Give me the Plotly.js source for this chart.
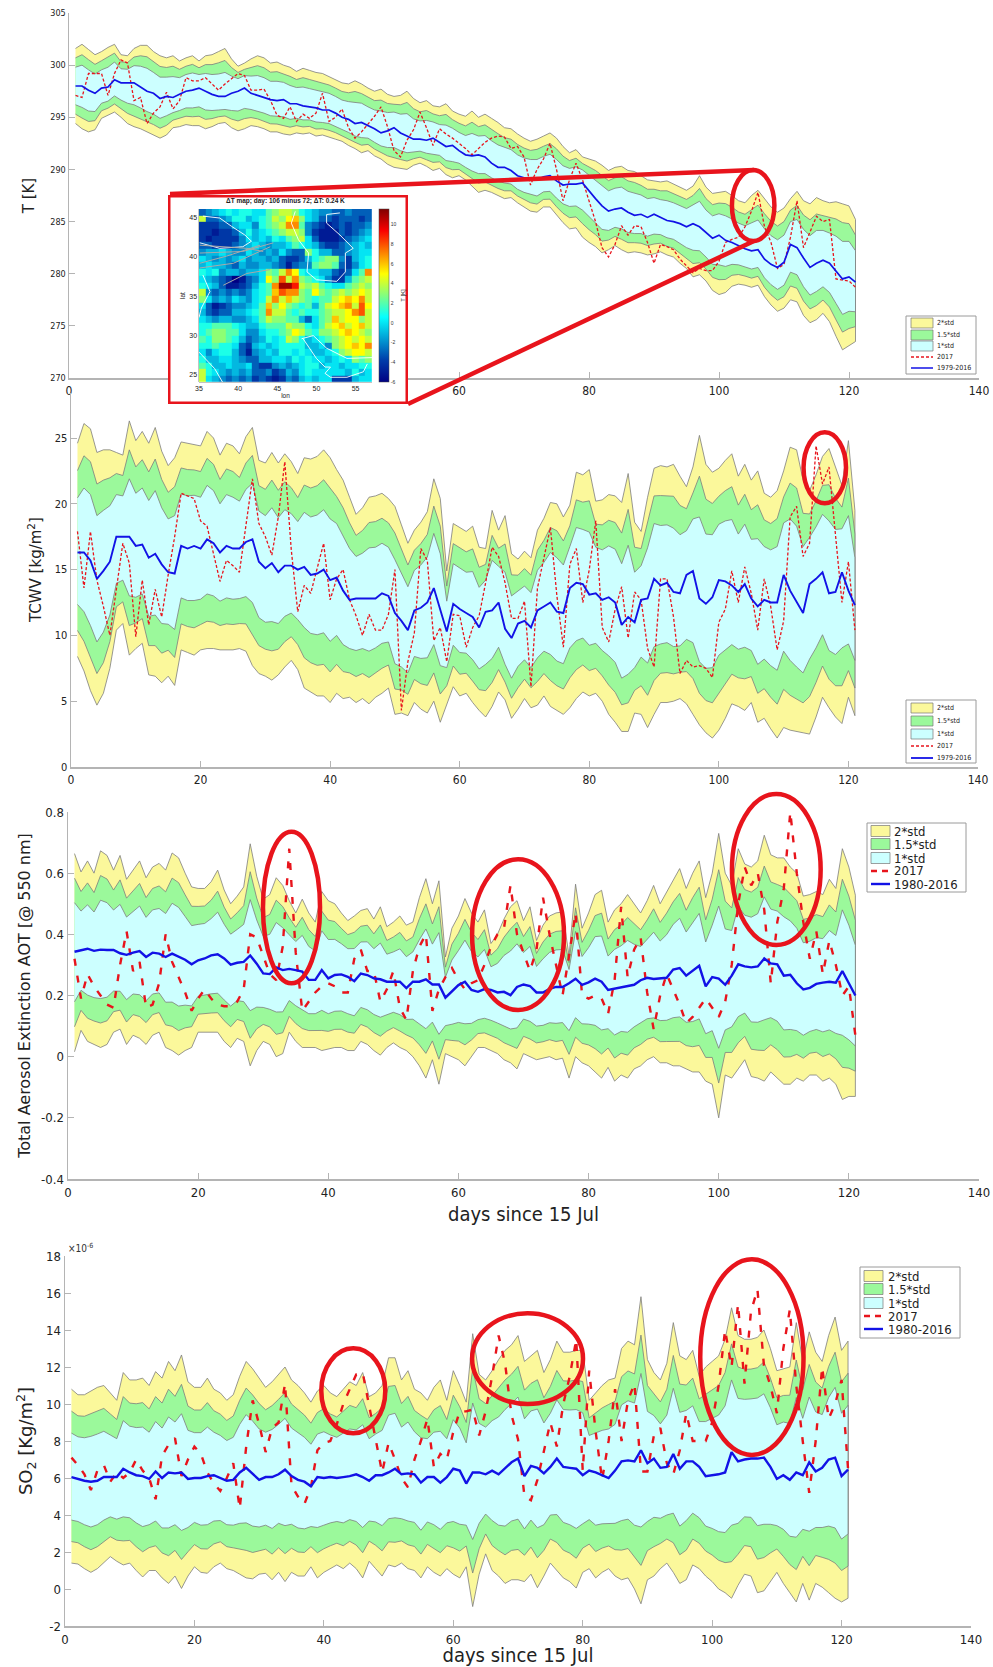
<!DOCTYPE html>
<html><head><meta charset="utf-8">
<script src="https://cdn.plot.ly/plotly-3.0.1.min.js"></script>
<style>html,body{margin:0;padding:0;background:#fff}#chart{width:993px;height:1667px}</style>
</head><body><div id="chart"></div>
<script>
// ---------- DATA (days 1..121) ----------
const days = [];
for (let d = 1; d <= 121; d++) days.push(d);

const tUpper2 = [301.6,302.0,301.5,301.0,301.3,301.7,302.0,301.0,300.9,301.6,
301.9,301.9,301.3,300.9,300.7,300.9,300.4,300.7,300.9,300.4,
300.9,301.0,301.3,301.6,300.6,299.9,300.2,300.6,300.9,300.7,
300.2,300.3,300.0,299.8,299.4,299.7,299.5,299.3,299.2,298.9,
298.6,298.3,298.2,298.5,298.2,297.8,297.5,297.7,297.2,297.0,
297.1,297.5,296.8,296.4,296.6,296.1,296.0,296.3,295.6,295.3,
295.1,295.6,295.0,295.3,294.9,294.5,294.0,293.9,293.4,293.0,
292.7,292.9,293.2,293.5,293.0,292.2,291.6,291.9,291.2,291.0,
290.8,290.4,289.9,290.2,290.3,289.9,289.8,289.4,289.0,288.9,
288.8,288.9,288.6,288.3,288.0,288.4,289.4,288.3,287.7,287.8,
287.9,287.5,287.0,286.8,287.5,288.0,287.2,286.4,285.9,286.3,
287.2,287.9,287.0,286.7,287.3,287.0,286.8,286.9,286.7,286.5,285.2];
const tLower2 = [294.4,293.9,293.6,293.8,294.9,295.2,295.5,295.0,294.4,294.1,
293.9,293.6,293.3,293.0,293.3,294.0,294.1,294.3,294.2,294.2,
293.9,294.1,294.4,294.5,294.0,293.7,293.9,294.2,294.1,293.9,
293.6,293.6,293.4,293.3,293.5,293.4,293.5,293.2,293.3,293.1,
292.9,292.7,292.3,292.0,291.6,291.8,291.3,291.0,290.5,290.2,
290.1,290.0,290.4,290.6,290.3,289.9,290.1,289.5,289.2,289.4,
289.0,288.4,287.8,288.0,287.8,287.5,287.2,287.3,286.8,286.4,
286.0,285.9,286.4,286.4,285.6,284.9,284.3,284.4,283.5,283.0,
282.6,282.0,282.3,282.7,282.3,282.0,282.1,282.0,281.8,281.9,
282.1,281.8,281.6,281.0,280.5,279.7,279.9,279.3,278.4,278.0,
278.2,278.8,279.0,278.9,278.7,278.9,277.8,277.0,276.4,276.7,
277.5,277.3,276.0,275.3,275.6,276.2,275.4,274.0,272.7,273.1,273.5];
const tMean = [298.0,298.0,297.6,297.3,297.8,297.9,298.6,298.3,298.3,298.3,
297.9,297.5,297.3,296.8,297.0,296.9,297.2,297.5,297.6,297.8,
297.5,297.2,297.0,297.0,297.3,297.5,297.8,297.3,297.1,296.9,
296.7,296.6,296.7,296.3,296.3,296.1,296.0,295.9,295.7,295.7,
295.4,295.0,294.8,294.4,294.5,294.2,293.9,293.5,293.7,294.0,
293.5,293.2,292.9,292.9,292.8,293.0,292.6,292.2,292.3,291.8,
291.4,291.3,291.4,291.2,290.6,290.2,290.2,289.9,289.4,289.2,
289.2,289.0,289.3,289.4,288.9,288.5,288.6,288.6,288.7,287.9,
287.2,286.5,286.0,286.2,286.3,285.9,285.6,285.7,285.4,285.7,
285.4,285.1,285.0,284.8,284.5,284.8,284.5,283.9,283.4,283.7,
283.2,283.0,282.7,282.4,282.2,282.3,281.4,280.9,280.6,281.1,
282.8,282.5,281.5,280.6,281.0,281.3,281.0,280.3,279.5,279.7,279.2];
const t2017 = [297.1,296.9,299.2,299.2,299.2,297.1,299.2,300.5,300.2,296.6,
296.9,294.4,295.4,296.0,297.4,295.8,296.6,298.8,298.5,298.5,
298.8,298.2,297.6,298.2,298.7,299.2,299.0,297.6,297.6,297.7,
296.6,295.2,294.9,296.0,294.6,295.3,294.9,295.4,297.3,294.6,
295.0,295.8,294.0,293.0,293.6,294.3,295.1,296.0,294.1,291.8,
291.2,292.8,293.8,295.5,294.0,292.3,293.9,293.4,293.0,292.5,
292.0,291.4,292.0,292.6,293.0,293.2,293.1,292.0,292.2,291.2,
288.5,290.0,291.0,292.5,290.0,287.0,289.0,290.6,289.0,287.0,
285.0,282.5,281.6,282.8,284.6,283.7,284.6,284.5,283.0,281.0,
282.8,282.6,282.3,281.4,280.7,280.1,280.5,280.3,280.3,281.2,
283.0,283.3,283.5,284.5,286.0,287.8,284.5,283.0,280.5,280.9,
283.5,287.0,282.5,284.0,285.5,285.0,285.2,279.5,279.4,279.3,278.7];

const wUpper2 = [24.6,26.1,25.7,23.9,24.1,24.1,23.9,23.7,26.3,24.8,
25.5,24.6,25.8,24.0,22.9,23.5,24.7,24.6,24.5,24.4,
25.5,25.0,23.7,24.6,24.4,23.8,25.1,25.8,23.3,23.1,
23.9,23.1,23.8,23.2,22.3,23.5,23.4,23.6,24.1,23.5,
22.6,21.8,20.5,19.2,19.7,20.5,20.6,20.8,20.4,19.8,
18.4,17.0,18.0,18.6,19.4,21.9,20.4,14.9,18.5,18.2,
17.9,18.3,16.7,16.6,19.5,18.0,19.1,16.2,15.8,16.4,
15.9,18.0,18.9,20.1,20.0,19.0,19.9,22.4,22.2,22.6,
20.2,20.3,20.7,20.6,20.1,22.3,18.6,17.9,20.5,22.7,
22.9,22.8,23.0,22.1,21.3,22.8,25.2,23.0,22.4,22.7,
23.3,23.8,22.1,23.0,21.8,22.5,20.8,20.5,21.0,22.5,
24.3,24.1,21.8,21.0,22.2,23.6,24.2,22.8,21.4,24.8,19.5];
const wLower2 = [8.4,7.3,5.8,4.7,5.6,7.5,10.4,10.9,8.5,9.0,
9.4,7.0,6.9,6.4,6.9,6.2,8.9,8.7,8.5,8.9,
9.0,9.0,8.9,8.9,8.9,9.0,8.8,7.7,7.1,6.9,
6.6,7.0,7.6,8.1,7.4,6.0,5.7,5.4,5.4,4.9,
5.6,5.2,5.3,4.9,5.2,4.8,5.3,5.6,6.0,4.0,
4.1,3.9,4.9,4.4,4.1,5.0,3.4,4.8,6.1,5.4,
5.6,4.9,4.3,3.8,4.6,5.7,5.1,3.7,4.4,5.2,
4.5,4.7,5.4,4.6,4.3,4.0,4.5,5.2,5.7,5.4,
5.6,5.0,4.0,3.4,2.7,2.7,4.1,4.0,3.0,4.0,
4.9,4.9,5.0,5.2,4.8,4.0,3.2,2.6,2.2,2.8,
3.7,4.8,4.6,4.3,4.9,3.4,3.7,2.9,2.2,3.0,
2.8,2.7,2.6,2.5,3.8,5.3,4.5,3.8,3.3,5.3,3.9];
const wMean = [16.3,16.3,15.7,14.3,14.9,15.6,17.5,17.5,17.5,16.8,
16.9,15.9,16.2,15.4,14.8,14.7,16.8,16.6,16.8,16.6,
17.3,17.0,16.3,16.8,16.6,16.6,17.1,17.3,15.6,15.1,
15.5,14.8,15.3,15.3,15.0,15.2,14.6,14.7,15.0,14.2,
14.4,13.4,12.7,12.8,12.8,12.8,12.8,13.2,13.0,11.7,
11.1,10.4,11.9,12.1,12.5,13.6,12.0,10.3,12.4,12.0,
11.7,11.4,10.6,11.8,11.9,12.5,10.5,9.8,10.9,11.1,
10.6,11.9,12.2,12.5,11.8,11.7,13.6,14.0,13.9,13.1,
13.2,12.7,12.9,12.5,10.8,11.4,11.0,12.7,12.8,14.3,
13.8,14.0,13.3,13.2,14.6,14.9,12.8,12.4,12.9,14.2,
14.1,13.8,13.3,13.9,12.8,12.2,12.7,12.5,12.5,14.6,
13.4,12.5,11.7,13.9,14.3,14.8,13.2,13.3,14.8,13.4,12.3];
const w2017 = [17.9,13.6,17.9,14.2,12.2,10.0,13.5,17.0,15.5,9.9,
14.2,10.8,13.5,11.4,14.6,17.5,20.8,20.6,20.4,18.7,
18.3,16.2,14.1,15.7,15.3,14.8,18.5,21.9,18.5,17.5,
16.1,19.0,23.2,16.5,11.8,13.8,13.2,15.0,17.0,12.7,
14.3,15.0,12.7,11.5,10.0,11.6,10.4,10.4,11.6,15.0,
4.3,8.0,10.2,16.6,15.7,9.6,10.6,8.0,11.6,11.5,
9.1,10.6,11.5,14.0,16.7,16.0,14.0,11.3,11.3,12.6,
6.1,13.6,15.8,18.2,13.0,9.1,15.4,16.6,12.5,15.0,
18.7,10.6,9.5,12.0,13.7,9.8,13.3,12.7,9.0,7.6,
14.3,14.3,11.4,7.1,8.1,7.6,7.7,7.5,6.8,11.0,
12.0,14.9,12.5,15.2,13.2,10.4,14.3,12.2,8.9,11.1,
19.0,19.8,16.0,17.0,24.4,21.5,22.8,17.7,12.5,15.6,10.4];

const aUpper2 = [.664,.604,.640,.600,.673,.658,.610,.658,.580,.610,
.640,.585,.620,.632,.610,.666,.650,.600,.555,.550,
.550,.572,.610,.545,.500,.525,.555,.696,.590,.515,
.530,.585,.560,.510,.470,.515,.470,.440,.540,.510,
.500,.470,.445,.460,.478,.484,.450,.490,.425,.440,
.460,.430,.440,.520,.582,.500,.575,.326,.420,.460,
.517,.470,.440,.480,.370,.400,.450,.490,.510,.445,
.490,.380,.430,.460,.470,.473,.330,.564,.420,.470,
.530,.544,.440,.480,.500,.530,.500,.470,.510,.560,
.500,.540,.580,.615,.550,.600,.640,.520,.600,.730,
.600,.560,.680,.630,.620,.640,.724,.660,.650,.650,
.620,.600,.525,.530,.540,.530,.580,.550,.680,.620,.528];
const aLower2 = [.016,.086,.05,.04,.03,.04,.08,.09,.04,.07,
.06,.04,.07,.08,.03,.02,.005,.02,.03,.08,
.08,.08,.08,.05,.03,.06,.05,-.03,.02,.05,
.04,0,.01,.08,.05,.03,.03,.03,.02,.025,
.03,.03,.02,.02,.05,.04,.02,.005,.03,.045,
.03,.02,0,-.03,-.07,-.01,-.09,.01,0,-.01,
-.03,0,.03,.03,.02,.01,-.01,-.02,-.04,.01,
0,-.01,-.005,0,-.01,-.005,-.07,0,-.02,-.03,
-.05,-.07,-.035,-.08,-.06,-.07,-.04,-.03,-.01,0,
-.02,-.02,-.03,-.03,-.04,-.05,-.05,-.08,-.09,-.2,
-.06,-.07,-.04,-.01,-.065,-.07,-.08,-.05,-.07,-.09,
-.09,-.07,-.08,-.06,-.06,-.08,-.07,-.09,-.14,-.13,-.13];
const aMean = [.343,.348,.353,.346,.350,.349,.349,.338,.333,.340,
.345,.326,.340,.337,.326,.337,.326,.317,.302,.315,
.321,.331,.335,.321,.301,.307,.310,.331,.304,.272,
.270,.292,.283,.287,.283,.278,.251,.251,.283,.256,
.267,.269,.261,.247,.272,.267,.256,.253,.245,.245,
.245,.224,.245,.245,.253,.236,.236,.193,.212,.234,
.245,.218,.212,.221,.218,.210,.212,.201,.228,.236,
.231,.210,.210,.222,.228,.228,.240,.255,.235,.243,
.255,.245,.218,.222,.225,.230,.235,.250,.258,.254,
.256,.258,.285,.290,.265,.280,.297,.230,.260,.255,
.235,.265,.302,.295,.292,.295,.321,.305,.302,.265,
.268,.240,.220,.225,.238,.242,.245,.242,.280,.240,.200];
const a2017 = [.32,.19,.27,.23,.20,.17,.16,.30,.41,.28,
.31,.16,.17,.24,.40,.31,.26,.21,.15,.19,
.22,.19,.17,.165,.165,.18,.22,.40,.39,.33,
.27,.25,.36,.68,.34,.15,.18,.21,.23,.24,
.23,.21,.21,.32,.35,.28,.28,.18,.22,.28,
.16,.12,.28,.36,.40,.15,.22,.26,.29,.25,
.22,.24,.25,.30,.36,.40,.42,.56,.40,.34,
.28,.35,.52,.40,.30,.20,.33,.47,.20,.19,
.20,.19,.14,.25,.49,.26,.35,.39,.21,.09,
.20,.27,.22,.17,.11,.13,.16,.19,.16,.13,
.18,.30,.50,.62,.56,.60,.48,.24,.44,.55,
.80,.60,.44,.32,.41,.27,.38,.30,.20,.23,.07];

const sUpper2 = [10.8,10.5,10.5,10.7,10.9,11.0,10.6,10.2,11.7,11.3,
11.3,11.4,11.0,11.75,11.4,12.3,11.8,12.65,11.2,10.9,
10.9,11.4,10.8,10.6,10.2,10.5,11.5,12.3,11.9,11.4,
10.9,11.2,11.6,12.0,11.3,11.0,10.6,10.1,10.7,11.0,
10.6,10.4,10.8,11.2,11.0,11.7,10.4,10.6,11.0,12.5,
12.5,11.3,11.8,10.8,10.6,10.2,10.9,11.3,10.2,11.8,
11.0,10.1,13.8,11.6,11.3,11.8,12.4,12.9,13.2,13.7,
12.3,12.6,12.9,11.7,12.4,13.4,12.8,12.8,12.9,12.9,
10.2,10.6,11.0,11.3,11.4,13.0,13.4,13.2,15.8,12.4,
11.7,11.3,12.2,14.4,12.6,12.4,12.9,11.5,12.0,12.3,
12.6,13.5,15.2,13.7,13.5,13.5,13.6,14.0,13.0,11.8,
11.9,12.0,14.4,12.3,13.9,12.8,12.3,13.7,14.7,12.9,13.4];
const sLower2 = [1.4,1.35,1.1,.9,1.1,1.4,1.75,1.5,1.3,1.4,
1.0,.65,1.0,1.0,.6,.3,.7,.03,.7,1.2,
.9,.85,1.2,1.4,1.1,1.0,.8,.6,.55,.8,
.85,.5,.9,.4,.9,.7,.7,1.2,.6,.9,
1.1,1.3,1.1,1.4,1.1,.6,1.5,1.1,.7,1.3,
1.2,1.4,1.1,1.0,.6,1.2,.9,.7,1.1,.8,
.6,1.2,-.95,.8,1.9,1.0,.7,.3,.5,.5,
.4,.8,.07,.7,1.4,1.0,.6,.4,.05,.9,
1.1,.6,.9,1.1,.7,.5,.6,0,-.8,.5,
.7,1.1,1.4,.9,.3,.5,1.3,1.1,.7,.4,
0,-.2,-.5,.2,.8,.7,-.2,-.1,.4,.9,
.3,-.2,-.7,.3,-.6,.3,.1,-.2,-.5,-.7,-.5];
const sMean = [6.05,5.95,5.85,5.8,5.85,6.05,6.05,6.05,6.5,6.3,
6.15,6.1,5.95,6.35,6.0,6.3,6.25,6.3,5.95,6.0,
6.0,6.1,6.15,6.0,5.85,5.9,6.3,6.55,6.25,5.9,
6.05,6.05,6.2,6.45,6.1,5.9,5.8,5.55,6.05,6.0,
6.05,6.0,6.05,6.1,6.2,6.05,5.85,6.15,6.15,6.3,
6.5,6.2,6.25,6.2,5.75,6.05,6.05,5.75,6.05,6.5,
6.4,5.7,6.3,6.3,6.2,6.4,6.2,6.5,6.85,7.05,
6.1,6.65,6.55,6.25,6.6,7.05,6.6,6.55,6.5,6.15,
6.4,6.3,6.15,6.0,6.4,6.9,6.95,6.9,7.5,6.8,
7.05,6.55,6.6,7.3,6.5,6.9,6.9,6.6,6.1,6.15,
6.2,6.3,7.4,6.9,7.0,7.05,7.05,7.1,6.6,5.95,
6.15,5.9,6.3,6.15,6.85,6.35,6.55,7.0,7.1,6.1,6.45];
const s2017 = [7.1,6.7,6.2,5.35,6.4,6.7,5.8,6.3,6.0,6.3,
7.0,6.4,6.0,4.85,7.2,7.8,8.15,6.1,7.0,7.7,
7.3,6.3,5.7,5.3,6.0,6.8,4.35,7.7,10.2,8.9,
7.4,8.7,9.0,11.1,5.6,5.0,4.6,5.5,7.5,7.9,
8.0,8.9,10.0,10.8,11.6,11.7,10.0,8.1,6.3,7.9,
7.0,6.0,5.5,7.0,8.0,9.2,6.6,7.3,7.0,8.5,
9.6,9.6,9.7,8.3,9.6,11.5,13.7,12.2,9.4,8.1,
5.0,4.8,5.9,7.5,9.0,7.7,10.0,11.5,13.5,6.4,
11.8,8.5,5.9,8.0,10.8,8.0,10.2,11.1,6.35,6.35,
8.3,8.7,6.8,6.2,7.5,9.5,8.0,8.0,8.0,9.0,
11.0,14.0,12.0,15.4,11.1,15.0,16.2,12.1,11.0,9.5,
13.0,15.1,11.0,8.0,5.2,8.0,12.0,9.2,10.0,11.3,6.5];

// inset map: ΔT [K], rows north to south
const mapLon = [35.4,36.25,37.1,37.95,38.8,39.65,40.5,41.35,42.2,43.05,43.9,44.75,45.6,46.45,47.3,48.15,49,49.85,50.7,51.55,52.4,53.25,54.1,54.95,55.8,56.65];
const mapLat = [45.7,44.85,44,43.15,42.3,41.45,40.6,39.75,38.9,38.05,37.2,36.35,35.5,34.65,33.8,32.95,32.1,31.25,30.4,29.55,28.7,27.85,27,26.15,25.3,24.5];
const mapDeltaT = [
[-3,-2,-1,0,1,0,1,1,0,0,2,3,4,4,3,1,0,-1,-2,-2,-3,-3,-2,-3,-3,-3],
[4,-3,-3,-2,-1,1,1,-1,0,1,2,4,3,5,6,3,0,-1,-3,-3,-4,-3,-3,-3,-4,-3],
[-4,-4,-4,-3,-3,-1,0,0,-2,1,2,3,4,7,7,2,-2,-3,-4,-5,-4,-3,-4,-3,-3,-2],
[-4,-4,-5,-4,-4,-3,-1,1,-1,0,1,2,3,4,4,3,-2,-4,-5,-5,-5,-3,-4,-3,-2,-1],
[-4,-5,-4,-4,-4,-4,-2,0,-1,0,-1,1,0,2,3,4,0,-3,-5,-5,-5,-4,-3,-2,-1,0],
[-3,-3,-4,-4,-4,-3,-2,-1,0,-1,-2,-1,-1,0,2,1,0,-1,-3,-4,-4,-3,-2,-1,0,-1],
[-2,-1,-1,0,-1,-2,-2,0,-1,-2,-1,-2,0,-2,-3,-3,3,1,-1,-1,-3,-3,-2,-1,0,0],
[0,-1,-2,-1,-2,-1,0,-2,-1,-1,-2,-1,-3,-4,-4,-3,-1,1,2,3,3,-2,-4,-1,0,1],
[-1,0,-1,-1,-2,-3,-1,-2,-2,-1,-1,-2,-3,-5,-3,-2,-2,2,3,3,2,-3,-4,-2,0,1],
[1,0,1,-2,-1,-1,-2,-1,-1,0,3,2,4,7,5,1,0,0,-1,-1,-3,-4,-3,0,2,7],
[0,-1,-2,-3,-4,-6,-5,-3,-2,0,5,3,8,4,7,3,2,1,0,-2,-4,-4,-1,2,3,4],
[1,0,-1,-3,-5,-5,-4,-3,-1,1,2,7,11,11,9,4,3,4,2,1,0,0,2,3,4,3],
[4,-2,-3,-2,-3,-2,-3,-2,0,1,2,6,8,7,7,3,2,5,3,2,3,4,3,4,5,4],
[3,0,-2,-1,-2,0,-1,-2,0,1,4,7,4,6,4,3,2,1,2,2,4,5,6,5,7,4],
[0,-3,-5,-4,-3,-2,-2,-1,0,2,6,3,5,3,2,1,2,-1,2,4,5,6,7,4,8,5],
[-1,-3,-4,-3,-3,-1,-1,0,1,2,7,4,4,2,1,2,1,1,2,3,4,4,5,7,8,4],
[0,-1,-2,-1,-1,-2,-2,-1,0,2,4,3,3,2,2,-1,-3,0,2,3,6,4,5,5,3,4],
[1,1,2,2,2,1,0,-1,-1,1,2,2,2,4,3,3,1,0,2,4,5,6,4,5,6,4],
[1,2,3,3,2,2,0,-2,-2,0,1,1,2,3,5,4,2,1,3,3,4,5,6,5,4,3],
[2,1,3,3,2,1,-1,-3,-2,-1,1,0,1,4,3,1,-1,0,1,2,3,4,5,4,5,4],
[1,1,2,1,1,0,-3,-4,-1,0,-1,0,1,1,1,1,-1,-1,0,-2,3,4,5,6,5,7],
[0,-2,0,1,1,-1,-3,-5,-2,-1,0,-1,1,1,0,1,0,-1,-1,0,1,3,4,5,5,4],
[1,-1,-1,0,0,-1,-2,-3,-3,-1,-1,0,0,-1,1,0,1,0,0,-1,0,1,0,3,2,3],
[2,1,-1,-1,0,-1,-1,0,-3,-4,-4,-2,-1,-2,-1,0,1,1,-1,0,0,-1,0,0,1,1],
[4,1,0,-1,-2,-1,-2,-1,-3,-3,-2,-4,-3,-1,-2,0,1,0,0,0,0,0,-1,1,-1,0],
[4,0,-1,-2,-3,-2,-3,-2,-4,-3,-4,-5,-4,-2,-3,-1,0,-1,0,0,-4,-4,-4,-1,0,0]];
const coastLines = [
 [[35.5,37.65,39.15,40.85,41.7,40.6,37.65,35.1],[45.2,44.95,43.9,42.8,42,41.3,41.1,41.8]],
 [[47.3,46.8,47.7,49,48.8,50,52.6,53.7,53.7,54.7,53,51.3,51.3,53],[45.8,44.3,42.2,40.5,38.1,37.1,36.9,38.1,40.5,41.1,42.8,44.3,45.4,45.6]],
 [[35.5,36.4,35.3,35],[37.7,35.6,33.5,32.3]],
 [[48.1,49.6,51.3,53.9,57.1],[29.6,30,28.4,27.1,27.2]],
 [[48.3,50,51.1,51.8,51.1,51.8,53.9,56,56.5],[29.6,27.1,26,26,25.2,24.7,24.7,25.4,26.4]],
 [[35,37,38],[27.9,25.8,24.1]]];
const borderLines = [
 [[35.1,38.5,42.8],[39.2,40.1,41.5]],
 [[35.1,39.4,44.1],[38.6,39.2,41.3]],
 [[35.1,40.6,44.5],[40.5,40.7,41.8]],
 [[38.1,41.1,44.1],[36.4,37.9,38.4]],
 [[35.1,41.1,43.2],[41.5,41.1,40.7]]];

const legendT = ['2*std','1.5*std','1*std','2017','1979-2016'];
const legendA = ['2*std','1.5*std','1*std','2017','1980-2016'];

// ---------- LAYOUT HELPERS ----------
const W = 993, H = 1667;
const RED = '#e8141c', BLUE = '#1212e6', YEL = '#fbf89b', GRN = '#9bf99b', CYN = '#ccffff', EDGE = '#7d7d7d';
const NARROW = '"Liberation Sans Narrow","DejaVu Sans Condensed",sans-serif';
const WIDE = '"DejaVu Sans",sans-serif';
const SMALL = '"Liberation Sans",sans-serif';
const px = x => x / W, py = y => 1 - y / H;
const pan = [
 {x0:69, x1:979, top:13,  bot:378},
 {x0:71, x1:978, top:393, bot:767},
 {x0:68, x1:979, top:812, bot:1179},
 {x0:65, x1:971, top:1256,bot:1626}];

const data = [];
function band(up, lo, mean, k, color, ax) {
  const u = up.map((v, i) => mean[i] + (v - mean[i]) * k / 2);
  const l = lo.map((v, i) => mean[i] + (v - mean[i]) * k / 2);
  data.push({x: days.concat(days.slice().reverse()), y: u.concat(l.slice().reverse()),
    xaxis:'x'+ax, yaxis:'y'+ax, mode:'lines', fill:'toself', fillcolor:color,
    line:{color:EDGE, width:0.8}, hoverinfo:'skip', showlegend:false});
}
function panel(up, lo, mean, obs, ax, dash, wObs, wMean) {
  band(up, lo, mean, 2, YEL, ax);
  band(up, lo, mean, 1.5, GRN, ax);
  band(up, lo, mean, 1, CYN, ax);
  data.push({x:days, y:obs, xaxis:'x'+ax, yaxis:'y'+ax, mode:'lines', name:'2017', showlegend:false,
    line:{color:RED, width:wObs, dash:dash}});
  data.push({x:days, y:mean, xaxis:'x'+ax, yaxis:'y'+ax, mode:'lines', name:'mean', showlegend:false,
    line:{color:BLUE, width:wMean}});
}
panel(tUpper2, tLower2, tMean, t2017, '',  '3px,2px', 1.3, 1.7);
panel(wUpper2, wLower2, wMean, w2017, '2', '3px,2px', 1.3, 1.9);
panel(aUpper2, aLower2, aMean, a2017, '3', '7px,10px', 2.4, 2.4);
panel(sUpper2, sLower2, sMean, s2017, '4', '7px,10px', 2.4, 2.4);

// inset frame
data.push({x:[0,1,1,0,0], y:[0,0,1,1,0], xaxis:'x5', yaxis:'y5', mode:'lines', fill:'toself',
  fillcolor:'#ffffff', line:{color:RED, width:5}, cliponaxis:false, hoverinfo:'skip', showlegend:false});
// inset map
data.push({type:'heatmap', x:mapLon, y:mapLat, z:mapDeltaT, xaxis:'x6', yaxis:'y6', zmin:-6, zmax:11.6,
  colorscale:'Jet', zsmooth:false, showscale:true, hoverinfo:'skip',
  colorbar:{x:px(379), xanchor:'left', xpad:0, ypad:0, y:py(382), yanchor:'bottom', len:(382-209)/H, lenmode:'fraction',
    thickness:10, thicknessmode:'pixels', outlinewidth:0.5, outlinecolor:'#444',
    tickvals:[-6,-4,-2,0,2,4,6,8,10], ticktext:['-6','-4','-2','0','2','4','6','8','10'],
    tickfont:{size:5, family:SMALL, color:'#333'}, ticks:'', ticklen:0,
    title:{text:'T [K]', side:'right', font:{size:6, family:SMALL, color:'#222'}}}});
coastLines.forEach(c => data.push({x:c[0], y:c[1], xaxis:'x6', yaxis:'y6', mode:'lines',
  line:{color:'#ffffff', width:0.9}, hoverinfo:'skip', showlegend:false}));
borderLines.forEach(c => data.push({x:c[0], y:c[1], xaxis:'x6', yaxis:'y6', mode:'lines',
  line:{color:'#a9a9a9', width:1}, hoverinfo:'skip', showlegend:false}));

// ---------- AXES ----------
function xAxis(p, font, title, anchor, standoff) {
  const a = {domain:[px(p.x0), px(p.x1)], range:[0,140], anchor:anchor, showgrid:false, zeroline:false,
    showline:true, linecolor:'#b4b4b4', linewidth:1.5, ticks:'inside', ticklen:6, tickcolor:'#b4b4b4',
    tickvals:[0,20,40,60,80,100,120,140], tickfont:{family:NARROW, size:font, color:'#222'}, ticklabelstandoff:1};
  if (title) a.title = {text:title, standoff:standoff, font:{family:NARROW, size:20, color:'#222'}};
  return a;
}
function yAxis(p, range, vals, txt, font, title, tf, standoff, anchor) {
  const a = {domain:[py(p.bot), py(p.top)], range:range, anchor:anchor, showgrid:false, zeroline:false,
    showline:true, linecolor:'#b4b4b4', linewidth:1.5, ticks:'inside', ticklen:6, tickcolor:'#b4b4b4',
    tickvals:vals, ticktext:txt, tickfont:{family:NARROW, size:font, color:'#222'}};
  if (title) a.title = {text:title, standoff:standoff, font:{family:WIDE, size:tf, color:'#222'}};
  return a;
}
const T_V=[270,275,280,285,290,295,300,305], W_V=[0,5,10,15,20,25],
      A_V=[-.4,-.2,0,.2,.4,.6,.8], S_V=[-2,0,2,4,6,8,10,12,14,16,18];
const layout = {
  width:W, height:H, margin:{l:0,r:0,t:0,b:0}, paper_bgcolor:'#fff', plot_bgcolor:'rgba(0,0,0,0)', showlegend:false,
  xaxis:xAxis(pan[0],12,null,'y'),
  yaxis:yAxis(pan[0],[270,305],T_V,T_V.map(String),9,'T [K]',15,12,'x'),
  xaxis2:xAxis(pan[1],12,null,'y2'),
  yaxis2:yAxis(pan[1],[0,(767-393)/13.16],W_V,W_V.map(String),11,null,0,0,'x2'),
  xaxis3:xAxis(pan[2],13,'days since 15 Jul','y3',8),
  yaxis3:yAxis(pan[2],[-.4,.8],A_V,['-0.4','-0.2','0','0.2','0.4','0.6','0.8'],13,'Total Aerosol Extinction AOT [@ 550 nm]',16,6,'x3'),
  xaxis4:xAxis(pan[3],13,'days since 15 Jul','y4',9),
  yaxis4:yAxis(pan[3],[-2,18],S_V,S_V.map(String),13,'SO<sub>2</sub> [Kg/m<sup>2</sup>]',18,8,'x4'),
  xaxis5:{domain:[px(168),px(408)], range:[0,1], anchor:'y5', visible:false, fixedrange:true},
  yaxis5:{domain:[py(404),py(195)], range:[0,1], anchor:'x5', visible:false, fixedrange:true},
  xaxis6:{domain:[px(199),px(372)], range:[35,57.1], anchor:'y6', showgrid:false, zeroline:false, showline:true,
    linecolor:'#888', linewidth:0.5, ticks:'', tickvals:[35,40,45,50,55],
    tickfont:{size:7, family:SMALL, color:'#222'},
    title:{text:'lon', standoff:2, font:{size:6.5, family:SMALL, color:'#222'}}},
  yaxis6:{domain:[py(382),py(209)], range:[24.1,46.1], anchor:'x6', showgrid:false, zeroline:false, showline:true,
    linecolor:'#888', linewidth:0.5, ticks:'', tickvals:[25,30,35,40,45],
    tickfont:{size:7, family:SMALL, color:'#222'},
    title:{text:'lat', standoff:2, font:{size:6.5, family:SMALL, color:'#222'}}},
  shapes:[], annotations:[]
};

function ell(x0,x1,y0,y1,w){ layout.shapes.push({type:'circle', xref:'paper', yref:'paper', x0:px(x0), x1:px(x1), y0:py(y1), y1:py(y0),
  line:{color:RED, width:w}, fillcolor:'rgba(0,0,0,0)', layer:'above'}); }
const zx = x => x / 1.578;
ell(zx(1155),zx(1222),170,241,4.5);
ell(zx(1268),zx(1335),400+97/3,400+310/3,4.5);
ell(zx(415),zx(505),790+125/3,790+580/3,4.5);
ell(zx(745),zx(890),790+208/3,790+660/3,4.5);
ell(zx(1155),zx(1295),790+12/3,790+465/3,4.5);
ell(zx(507),zx(608),1230+355/3,1230+610/3,4.5);
ell(zx(745),zx(920),1230+250/3,1230+522/3,4.5);
ell(zx(1105),zx(1268),1230+88/3,1230+675/3,4.5);
function seg(x0,y0,x1,y1){ layout.shapes.push({type:'line', xref:'paper', yref:'paper', x0:px(x0), x1:px(x1), y0:py(y0), y1:py(y1),
  line:{color:RED, width:4.5}, layer:'above'}); }
seg(170,194,754,170);
seg(408,404,754,241);

function legend(labels, box, rows, sw, textX, fs, hSw, wObs, wMean, dash) {
  layout.shapes.push({type:'rect', xref:'paper', yref:'paper', x0:px(box[0]), x1:px(box[1]), y0:py(box[3]), y1:py(box[2]),
    line:{color:'#9a9a9a', width:1}, fillcolor:'#fff', layer:'above'});
  labels.forEach((lab,i) => {
    const y = rows[i];
    if (i < 3) layout.shapes.push({type:'rect', xref:'paper', yref:'paper', x0:px(sw[0]), x1:px(sw[1]), y0:py(y+hSw), y1:py(y-hSw),
      line:{color:'#777', width:0.7}, fillcolor:[YEL,GRN,CYN][i], layer:'above'});
    else layout.shapes.push({type:'line', xref:'paper', yref:'paper', x0:px(sw[0]), x1:px(sw[1]), y0:py(y), y1:py(y),
      line:{color:i===3?RED:BLUE, width:i===3?wObs:wMean, dash:i===3?dash:'solid'}, layer:'above'});
    layout.annotations.push({xref:'paper', yref:'paper', x:px(textX), y:py(y), xanchor:'left', yanchor:'middle', text:lab,
      showarrow:false, font:{family:NARROW, size:fs, color:'#222'}});
  });
}
legend(legendT,[906,976,316,374],[323,335,346,357,368],[911,933],935,7,5,1.3,1.5,'3px,2px');
legend(legendT,[906,976,700,763],[708,721,734,746,758],[911,933],935,7,5,1.3,1.8,'3px,2px');
legend(legendA,[867,966,823,892],[831,844,858,871,884],[871,890],892,13,5.5,2.4,2.4,'6px,5px');
legend(legendA,[860,960,1267,1338],[1276,1289,1303,1316,1329],[864,883],886,13,5.5,2.4,2.4,'6px,5px');

layout.annotations.push({xref:'paper', yref:'paper', x:px(285), y:py(201), xanchor:'center', yanchor:'middle',
  text:'<b>ΔT map; day: 106 minus 72; ΔT: 0.24 K</b>', showarrow:false, font:{size:6.5, family:SMALL, color:'#222'}});
layout.annotations.push({xref:'paper', yref:'paper', x:px(66), y:py(1248), xanchor:'left', yanchor:'middle',
  text:'×10<sup>-6</sup>', showarrow:false, font:{size:10, family:NARROW, color:'#333'}});
layout.annotations.push({xref:'paper', yref:'paper', x:px(35), y:py(570), xanchor:'center', yanchor:'middle', textangle:-90,
  text:'TCWV [kg/m<sup>2</sup>]', showarrow:false, font:{size:15, family:WIDE, color:'#222'}});

Plotly.newPlot('chart', data, layout, {displayModeBar:false, staticPlot:true});
</script></body></html>
